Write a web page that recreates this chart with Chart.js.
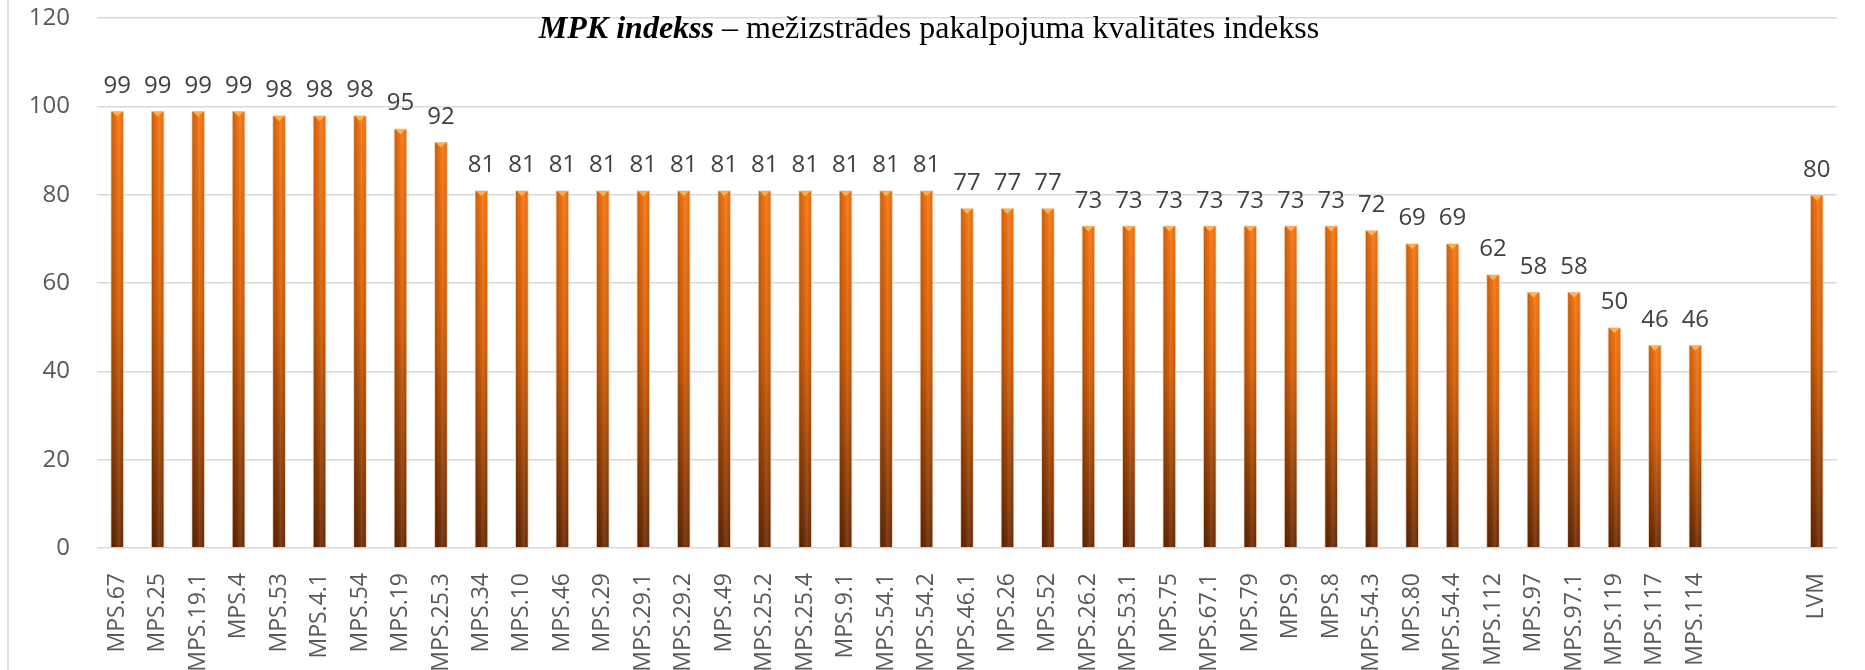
<!DOCTYPE html>
<html lang="lv">
<head>
  <meta charset="UTF-8" />
  <title>MPK indekss</title>
  <script src="https://cdn.jsdelivr.net/npm/chart.js"></script>
  <style>
    body { margin: 0; background: #fff; }
    #wrap { width: 1865px; height: 670px; position: relative; }
  </style>
</head>
<body>
  <div id="wrap"><canvas id="mpkChart"></canvas></div>

  <script>
    // categories (two empty slots before LVM, as in the original)
    const categories = [
      'MPS.67', 'MPS.25', 'MPS.19.1', 'MPS.4', 'MPS.53', 'MPS.4.1', 'MPS.54', 'MPS.19', 'MPS.25.3', 'MPS.34',
      'MPS.10', 'MPS.46', 'MPS.29', 'MPS.29.1', 'MPS.29.2', 'MPS.49', 'MPS.25.2', 'MPS.25.4', 'MPS.9.1', 'MPS.54.1',
      'MPS.54.2', 'MPS.46.1', 'MPS.26', 'MPS.52', 'MPS.26.2', 'MPS.53.1', 'MPS.75', 'MPS.67.1', 'MPS.79', 'MPS.9',
      'MPS.8', 'MPS.54.3', 'MPS.80', 'MPS.54.4', 'MPS.112', 'MPS.97', 'MPS.97.1', 'MPS.119', 'MPS.117', 'MPS.114',
      '', '', 'LVM'
    ];
    const indexValues = [
      99, 99, 99, 99, 98, 98, 98, 95, 92, 81,
      81, 81, 81, 81, 81, 81, 81, 81, 81, 81,
      81, 77, 77, 77, 73, 73, 73, 73, 73, 73,
      73, 72, 69, 69, 62, 58, 58, 50, 46, 46,
      null, null, 80
    ];
    const yTicks = [0, 20, 40, 60, 80, 100, 120];

    const titleBold = 'MPK indekss';
    const titleRest = ' \u2013 me\u017Eizstr\u0101des pakalpojuma kvalit\u0101tes indekss';

    const gridColor = '#d9d9d9';
    const textColor = '#595959';

    // per-bar vertical gradient, orange at the top, dark brown at the base
    function barFill(ctx) {
      const chart = ctx.chart;
      const area = chart.chartArea;
      if (!area || ctx.raw == null) return '#c55a11';
      const y = chart.scales.y;
      const top = y.getPixelForValue(ctx.raw);
      const base = y.getPixelForValue(0);
      const g = chart.ctx.createLinearGradient(0, top, 0, base);
      g.addColorStop(0, '#f57410');
      g.addColorStop(0.45, '#d45e06');
      g.addColorStop(1, '#6a2a04');
      return g;
    }

    const decorPlugin = {
      id: 'decor',
      afterDatasetsDraw(chart) {
        const ctx = chart.ctx;
        const meta = chart.getDatasetMeta(0);
        meta.data.forEach((bar, i) => {
          const v = indexValues[i];
          if (v == null) return;
          const left = bar.x - bar.width / 2;
          const h = bar.base - bar.y;
          // cylinder shading
          const sg = ctx.createLinearGradient(left, 0, left + bar.width, 0);
          sg.addColorStop(0, 'rgba(0,0,0,0.22)');
          sg.addColorStop(0.35, 'rgba(0,0,0,0.05)');
          sg.addColorStop(0.6, 'rgba(255,255,255,0.10)');
          sg.addColorStop(1, 'rgba(0,0,0,0.08)');
          ctx.fillStyle = sg;
          ctx.fillRect(left + 1, bar.y + 1, bar.width - 2, h - 1);
          // small highlight triangle on top
          ctx.fillStyle = '#ffb14a';
          ctx.beginPath();
          ctx.moveTo(left + 2, bar.y + 1);
          ctx.lineTo(left + bar.width - 2, bar.y + 1);
          ctx.lineTo(bar.x, bar.y + 6);
          ctx.closePath();
          ctx.fill();
          // value label
          ctx.fillStyle = '#404040';
          ctx.font = '24px "Open Sans"';
          ctx.textAlign = 'center';
          ctx.textBaseline = 'alphabetic';
          ctx.fillText(String(v), bar.x, bar.y - 18);
        });
      },
      afterDraw(chart) {
        const ctx = chart.ctx;
        // left border of the chart box
        ctx.strokeStyle = gridColor;
        ctx.lineWidth = 1.5;
        ctx.beginPath();
        ctx.moveTo(8, 0);
        ctx.lineTo(8, 670);
        ctx.stroke();
        // title with mixed styles
        ctx.fillStyle = '#000';
        ctx.textBaseline = 'alphabetic';
        ctx.textAlign = 'left';
        ctx.font = 'italic bold 32px "Liberation Serif"';
        const w1 = ctx.measureText(titleBold).width;
        ctx.font = '32px "Liberation Serif"';
        const w2 = ctx.measureText(titleRest).width;
        const x0 = 929 - (w1 + w2) / 2;
        ctx.font = 'italic bold 32px "Liberation Serif"';
        ctx.fillText(titleBold, x0, 38);
        ctx.font = '32px "Liberation Serif"';
        ctx.fillText(titleRest, x0 + w1, 38);
      }
    };

    new Chart(document.getElementById('mpkChart'), {
      type: 'bar',
      data: {
        labels: categories,
        datasets: [{
          data: indexValues,
          backgroundColor: barFill,
          borderColor: 'rgba(235,205,175,0.9)',
          borderWidth: 1,
          categoryPercentage: 1,
          barPercentage: 0.34
        }]
      },
      options: {
        responsive: true,
        maintainAspectRatio: false,
        animation: false,
        layout: { padding: { top: 18, right: 28, left: 0, bottom: 0 } },
        plugins: {
          legend: { display: false },
          tooltip: { enabled: false }
        },
        scales: {
          x: {
            grid: { display: false },
            border: { display: false },
            ticks: {
              autoSkip: false,
              maxRotation: 90,
              minRotation: 90,
              padding: 17,
              color: textColor,
              font: { family: 'Open Sans', size: 23 }
            },
            afterFit(scale) { scale.height = 122; }
          },
          y: {
            min: 0,
            max: 120,
            afterBuildTicks(scale) { scale.ticks = yTicks.map(v => ({ value: v })); },
            grid: { color: gridColor, lineWidth: 1.5, drawTicks: false },
            border: { display: false },
            ticks: {
              padding: 27,
              color: textColor,
              font: { family: 'Open Sans', size: 24 }
            },
            afterFit(scale) {
              scale.width = 97;
              // tick padding would otherwise push the plot top down
              scale.paddingTop = 0;
              scale.paddingBottom = 0;
            }
          }
        }
      },
      plugins: [decorPlugin]
    });
  </script>
</body>
</html>
